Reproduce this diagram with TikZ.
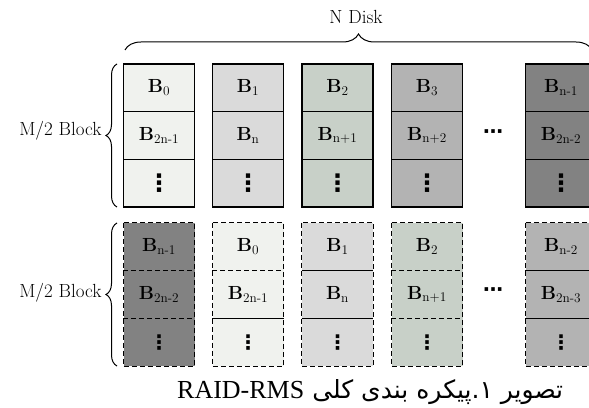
\documentclass[tikz,border=0pt]{standalone}
\usepackage{fontspec}
\usetikzlibrary{decorations.pathreplacing}
\TeXXeTstate=1
\newfontfamily\arabicfont[Script=Arabic]{DejaVu Sans}
\newfontfamily\latinserif{Liberation Serif}
\newfontfamily\symfont{DejaVu Sans}

\definecolor{shadeA}{HTML}{F0F2EE}
\definecolor{shadeB}{HTML}{DADADA}
\definecolor{shadeC}{HTML}{C8D0C8}
\definecolor{shadeD}{HTML}{B3B3B3}
\definecolor{shadeE}{HTML}{828282}

% block label B_i
\newcommand{\blk}[1]{\textbf{B}\textsubscript{#1}}
% column continuation marks
\newcommand{\topdots}{{\fontsize{24}{24}\symfont\bfseries ⋮}}
\newcommand{\lowdots}{{\fontsize{20}{20}\symfont\bfseries ⋮}}
\newcommand{\diskdots}{{\fontsize{20}{20}\symfont\bfseries ⋯}}

\begin{document}
\begin{tikzpicture}[x=1pt, y=1pt, font=\fontsize{19}{22}\selectfont,
		cell/.style={rectangle, draw, line width=1.2pt, minimum width=71pt, minimum height=47.7pt, inner sep=0pt},
		dcell/.style={rectangle, minimum width=71pt, minimum height=47.7pt, inner sep=0pt},
		dash line/.style={line width=1.2pt, dash pattern=on 5pt off 3pt},
		solid line/.style={line width=1.2pt, solid},
		bracket/.style={decorate, line width=1pt}]
	\useasboundingbox (0,0) rectangle (589,407);
	
	% Top: N disks
	\draw[bracket, decoration={brace, amplitude=16pt}] (125,357) -- (592,357);
	\node (ndisk) at (356,390) {N Disk};
	
	% Group 1: solid columns
	\foreach \i/\x/\shade/\ta/\tb in {1/159/shadeA/0/2n-1, 2/248/shadeB/1/n, 3/337.5/shadeC/2/n+1, 4/427/shadeD/3/n+2, 5/561/shadeE/n-1/2n-2} {
		\node[cell, fill=\shade] (t\i-a) at (\x,319.2) {\blk{\ta}};
		\node[cell, fill=\shade] (t\i-b) at (\x,271.5) {\blk{\tb}};
		\node[cell, fill=\shade] (t\i-c) at (\x,223.8) {\topdots};
	}
	\node (tdots) at (493,273) {\diskdots};
	\draw[bracket, decoration={brace, amplitude=11pt}] (117,200) -- (117,343);
	\node[anchor=east] (tblock) at (105,276) {M/2 Block};
	
	% Group 2: dashed columns, shifted by one disk
	\foreach \i/\x/\shade/\ta/\tb/\da/\db in {1/159/shadeE/n-1/2n-2/dash line/dash line, 2/248/shadeA/0/2n-1/dash line/solid line, 3/337.5/shadeB/1/n/solid line/solid line, 4/427/shadeC/2/n+1/dash line/dash line, 5/561/shadeD/n-2/2n-3/solid line/solid line} {
		\node[dcell, fill=\shade] (b\i-a) at (\x,160.2) {\blk{\ta}};
		\node[dcell, fill=\shade] (b\i-b) at (\x,112.5) {\blk{\tb}};
		\node[dcell, fill=\shade] (b\i-c) at (\x,64.8) {\lowdots};
		\draw[dash line] (b\i-a.north west) rectangle (b\i-c.south east);
		\draw[\da] (b\i-a.south west) -- (b\i-a.south east);
		\draw[\db] (b\i-b.south west) -- (b\i-b.south east);
	}
	\node (bdots) at (493,115) {\diskdots};
	\draw[bracket, decoration={brace, amplitude=11pt}] (117,41) -- (117,184);
	\node[anchor=east] (bblock) at (105,114) {M/2 Block};
	
	% caption
	\node[anchor=base west, inner sep=0pt] (caption) at (177,9)
		{\fontsize{25}{30}\arabicfont\beginR تصویر ۱.پیکره بندی کلی \beginL{\fontsize{26}{30}\latinserif RAID-RMS}\endL\endR};
	
\end{tikzpicture}
\end{document}
